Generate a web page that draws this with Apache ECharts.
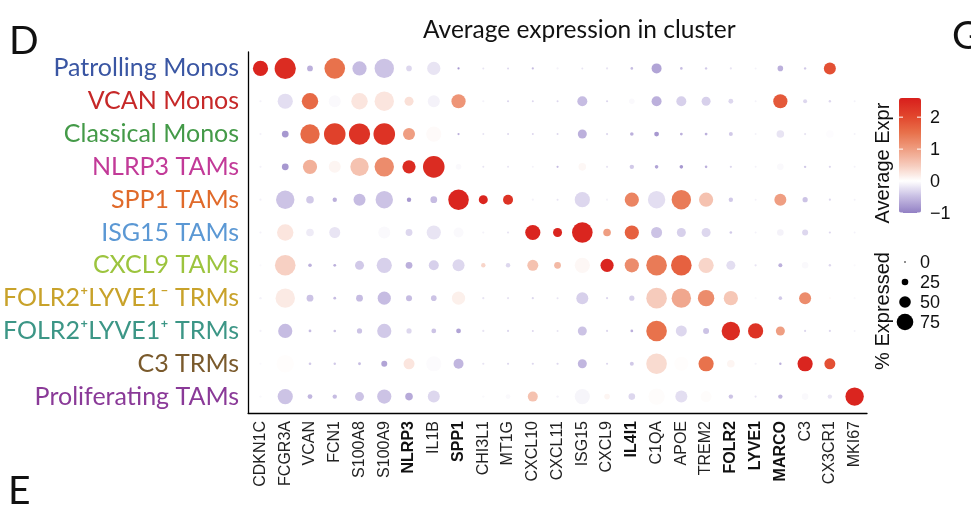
<!DOCTYPE html>
<html>
<head>
<meta charset="utf-8">
<script src="https://cdn.jsdelivr.net/npm/echarts@6/dist/echarts.min.js"></script>
<style>
  html, body { margin: 0; padding: 0; background: #fff; }
  #chart { width: 971px; height: 508px; }
</style>
</head>
<body>
<div id="chart"></div>
<script>
// ---------- data ----------
const genes = ['CDKN1C','FCGR3A','VCAN','FCN1','S100A8','S100A9','NLRP3','IL1B','SPP1','CHI3L1','MT1G',
  'CXCL10','CXCL11','ISG15','CXCL9','IL4I1','C1QA','APOE','TREM2','FOLR2','LYVE1','MARCO','C3','CX3CR1','MKI67'];
const boldGenes = ['NLRP3','SPP1','IL4I1','FOLR2','LYVE1','MARCO'];
const clusters = ['Patrolling Monos','VCAN Monos','Classical Monos','NLRP3 TAMs','SPP1 TAMs','ISG15 TAMs',
  'CXCL9 TAMs','FOLR2\u207ALYVE1\u207B TRMs','FOLR2\u207ALYVE1\u207A TRMs','C3 TRMs','Proliferating TAMs'];
const clusterColors = ['#3A56A3','#C62828','#449A48','#C23A98','#E06A2A','#5B98D4','#9CC43E','#C8A22A','#3C9686','#7A5A2C','#8A3A98'];

// average expression (rows = clusters, cols = genes)
const avgExpr = [
  [2.5, 2.4, -0.6, 1.5, -0.5, -0.45, -0.3, -0.2, -0.8, -0.2, -0.3, -0.5, -0.1, -0.2, -0.2, -0.5, -0.7, -0.5, -0.4, -0.2, -0.1, -0.6, -0.4, 1.9, 0],
  [-0.1, -0.25, 1.6, -0.05, 0.25, 0.25, 0.3, -0.1, 1.1, -0.1, -0.3, -0.3, -0.3, -0.5, -0.3, -0.05, -0.6, -0.35, -0.35, -0.3, -0.1, 1.8, -0.3, -0.3, -0.1],
  [-0.1, -0.8, 1.6, 2.1, 2.3, 2.3, 1.0, 0.05, -0.6, -0.2, -0.3, -0.3, -0.3, -0.6, -0.3, -0.6, -0.8, -0.6, -0.6, -0.4, -0.1, -0.2, -0.2, -0.02, -0.1],
  [-0.1, -0.8, 0.8, 0.1, 0.6, 1.2, 2.4, 2.4, -0.05, -0.2, -0.2, -0.1, -0.5, 0.08, -0.2, -0.4, -0.7, -0.8, -0.6, -0.3, -0.1, -0.05, -0.4, -0.3, -0.1],
  [-0.1, -0.45, -0.4, -0.6, -0.5, -0.45, -0.8, -0.5, 2.5, 2.5, 2.3, -0.1, -0.2, -0.3, -0.1, 1.3, -0.25, 1.4, 0.6, -0.4, -0.1, 1.0, -0.45, -0.3, -0.1],
  [-0.1, 0.25, -0.15, -0.2, 0.0, -0.05, -0.3, -0.2, -0.05, -0.1, -0.2, 2.5, 2.5, 2.5, 1.0, 1.7, -0.45, -0.35, -0.3, -0.4, -0.1, -0.1, -0.3, -0.3, -0.1],
  [-0.05, 0.45, -0.6, -0.6, -0.4, -0.35, -0.6, -0.35, -0.3, 0.4, -0.3, 0.6, 0.7, 0.08, 2.5, 1.2, 1.4, 1.7, 0.4, -0.25, -0.2, -0.6, -0.05, -0.3, -0.05],
  [-0.1, 0.2, -0.45, -0.5, -0.5, -0.5, -0.5, -0.45, 0.15, -0.2, -0.2, -0.3, -0.2, -0.35, -0.3, -0.35, 0.5, 0.9, 1.2, 0.55, -0.05, -0.4, 1.2, 0.05, -0.05],
  [-0.1, -0.5, -0.5, -0.45, -0.45, -0.4, -0.3, -0.45, -0.7, -0.2, -0.3, -0.3, -0.2, -0.45, -0.3, -0.6, 1.5, -0.3, -0.45, 2.4, 2.3, 1.0, -0.3, -0.3, -0.1],
  [-0.05, 0.02, -0.4, -0.4, -0.5, -0.7, 0.25, -0.03, -0.55, -0.2, -0.3, -0.3, -0.3, -0.55, -0.3, -0.4, 0.35, 0.02, 1.5, 0.1, -0.1, -0.6, 2.5, 1.9, 0],
  [-0.05, -0.45, -0.55, -0.5, -0.45, -0.45, -0.65, -0.3, 0.0, -0.05, -0.05, 0.6, -0.1, -0.08, 0.1, -0.3, 0.03, -0.25, 0.03, -0.45, -0.2, -0.55, -0.05, -0.2, 2.5]
];
// percent expressed
const pctExpressed = [
  [68, 98, 21, 95, 63, 89, 20, 58, 3, 2, 2, 3, 3, 2, 3, 5, 42, 5, 4, 3, 2, 20, 4, 52, 2],
  [3, 68, 74, 52, 74, 89, 37, 52, 63, 3, 3, 2, 2, 42, 3, 20, 42, 42, 37, 16, 2, 63, 12, 4, 2],
  [3, 26, 89, 100, 98, 100, 52, 68, 3, 2, 2, 2, 2, 37, 3, 10, 16, 6, 6, 12, 2, 30, 3, 30, 2],
  [3, 26, 63, 52, 84, 89, 58, 100, 20, 2, 2, 2, 3, 30, 3, 14, 10, 10, 5, 3, 2, 25, 4, 3, 2],
  [3, 84, 30, 14, 52, 79, 14, 26, 95, 37, 42, 3, 2, 68, 3, 63, 79, 89, 63, 14, 2, 52, 18, 3, 2],
  [3, 74, 30, 47, 30, 52, 26, 63, 42, 3, 3, 68, 37, 95, 30, 63, 47, 37, 37, 5, 2, 25, 22, 3, 2],
  [3, 95, 10, 6, 37, 68, 26, 42, 52, 14, 14, 47, 26, 68, 58, 63, 95, 95, 68, 37, 3, 12, 25, 4, 3],
  [4, 89, 26, 6, 26, 58, 22, 20, 58, 3, 3, 3, 2, 52, 3, 18, 95, 89, 74, 63, 3, 10, 52, 3, 3],
  [3, 63, 6, 5, 18, 63, 18, 16, 16, 3, 3, 2, 2, 37, 3, 6, 95, 47, 22, 84, 68, 37, 3, 3, 2],
  [3, 79, 5, 4, 6, 22, 47, 68, 42, 3, 3, 3, 3, 37, 3, 12, 95, 63, 68, 30, 3, 4, 68, 47, 3],
  [4, 68, 16, 14, 37, 63, 30, 52, 42, 4, 16, 42, 4, 68, 20, 25, 74, 52, 47, 14, 3, 14, 25, 14, 84]
];
const colorTicks = [2, 1, 0, -1];
const sizeTicks = [0, 25, 50, 75];
const exprMin = -1, exprMax = 2.6;

// ---------- scales ----------
const sizeFn = p => 1.6 + 0.2 * p;
const colorStops = [
  [-1, [146,128,196]], [-0.5, [198,188,226]], [0, [255,255,255]], [0.5, [246,203,188]],
  [1, [239,158,130]], [1.5, [232,114,76]], [2, [226,72,46]], [2.6, [216,30,28]]
];
function colorAt(v) {
  if (v <= colorStops[0][0]) return colorStops[0][1];
  for (let i = 1; i < colorStops.length; i++) {
    if (v <= colorStops[i][0]) {
      const [a, ca] = colorStops[i-1], [b, cb] = colorStops[i];
      const t = (v - a) / (b - a);
      return ca.map((c, k) => Math.round(c + (cb[k] - c) * t));
    }
  }
  return colorStops[colorStops.length-1][1];
}
const rgb = c => 'rgb(' + c.join(',') + ')';
const paletteN = 37;
const palette = [];
for (let i = 0; i < paletteN; i++) palette.push(rgb(colorAt(exprMin + (exprMax - exprMin) * i / (paletteN - 1))));

const points = [];
clusters.forEach((cl, r) => {
  genes.forEach((g, c) => {
    points.push([c, r, avgExpr[r][c], pctExpressed[r][c]]);
  });
});

// ---------- layout ----------
const bar = { left: 899, top: 98, width: 22, height: 115 };
const sizeLeg = { x: 905, top: 262, step: 20 };

const chart = echarts.init(document.getElementById('chart'), null, { renderer: 'canvas' });

const graphics = [];
graphics.push({ type: 'text', left: 423, top: 18, style: { text: 'Average expression in cluster', font: '24.5px Lato', fill: '#111' } });
graphics.push({ type: 'text', left: 9, top: 22, style: { text: 'D', font: '39px Lato', fill: '#111' } });
graphics.push({ type: 'text', left: 8, top: 472, style: { text: 'E', font: '39px Lato', fill: '#111' } });
graphics.push({ type: 'text', left: 952, top: 17, style: { text: 'G', font: '39px Lato', fill: '#111' } });
// legend titles
graphics.push({ type: 'text', x: 883, y: 163, rotation: Math.PI / 2,
  style: { text: 'Average Expr', font: '20px "Liberation Sans"', fill: '#111', align: 'center', verticalAlign: 'middle' } });
graphics.push({ type: 'text', x: 883, y: 311, rotation: Math.PI / 2,
  style: { text: '% Expressed', font: '20px "Liberation Sans"', fill: '#111', align: 'center', verticalAlign: 'middle' } });
// colorbar ticks + labels
colorTicks.forEach(v => {
  const y = bar.top + (exprMax - v) / (exprMax - exprMin) * bar.height;
  graphics.push({ type: 'line', shape: { x1: bar.left, y1: y, x2: bar.left + 4, y2: y }, style: { stroke: '#fff', lineWidth: 1 }, z: 100 });
  graphics.push({ type: 'line', shape: { x1: bar.left + bar.width - 4, y1: y, x2: bar.left + bar.width, y2: y }, style: { stroke: '#fff', lineWidth: 1 }, z: 100 });
  graphics.push({ type: 'text', x: bar.left + bar.width + 9, y: y + 1,
    style: { text: v < 0 ? '\u2212' + Math.abs(v) : String(v), font: '18px "Liberation Sans"', fill: '#111', verticalAlign: 'middle' } });
});
// size legend
sizeTicks.forEach((p, i) => {
  const y = sizeLeg.top + i * sizeLeg.step;
  graphics.push({ type: 'circle', shape: { cx: sizeLeg.x, cy: y, r: sizeFn(p) / 2 }, style: { fill: '#000' } });
  graphics.push({ type: 'text', x: sizeLeg.x + 15, y: y + 1,
    style: { text: String(p), font: '18px "Liberation Sans"', fill: '#111', verticalAlign: 'middle' } });
});

const option = {
  backgroundColor: '#fff',
  animation: false,
  grid: { left: 241, right: 104, top: 52, bottom: 95 },
  xAxis: {
    type: 'category', data: genes,
    axisLine: { lineStyle: { color: '#000', width: 1.3 } },
    axisTick: { alignWithLabel: true, length: 5, lineStyle: { color: '#000', width: 1.2 } },
    axisLabel: {
      rotate: 90, margin: 8, interval: 0, fontSize: 16, fontFamily: 'Liberation Sans', color: '#222',
      formatter: v => boldGenes.includes(v) ? '{b|' + v + '}' : v,
      rich: { b: { fontWeight: 'bold', fontSize: 16, fontFamily: 'Liberation Sans', color: '#111' } }
    },
    splitLine: { show: false }
  },
  yAxis: {
    type: 'category', data: clusters, inverse: true,
    axisLine: { lineStyle: { color: '#000', width: 1.3 } },
    axisTick: { alignWithLabel: true, length: 5, lineStyle: { color: '#000', width: 1.2 } },
    axisLabel: {
      margin: 9, interval: 0, fontSize: 25, fontFamily: 'Lato',
      color: (v, i) => clusterColors[i]
    },
    splitLine: { show: false }
  },
  visualMap: {
    type: 'continuous', min: exprMin, max: exprMax, dimension: 2, seriesIndex: 0,
    show: true, calculable: false, hoverLink: false, padding: 0,
    itemWidth: bar.width, itemHeight: bar.height, left: bar.left, top: bar.top,
    text: null, showLabel: false,
    inRange: { color: palette }
  },
  series: [{
    type: 'scatter',
    data: points,
    symbol: 'circle',
    symbolSize: d => sizeFn(d[3]),
    itemStyle: { opacity: 1 },
    silent: true
  }],
  graphic: graphics
};
chart.setOption(option);
</script>
</body>
</html>
